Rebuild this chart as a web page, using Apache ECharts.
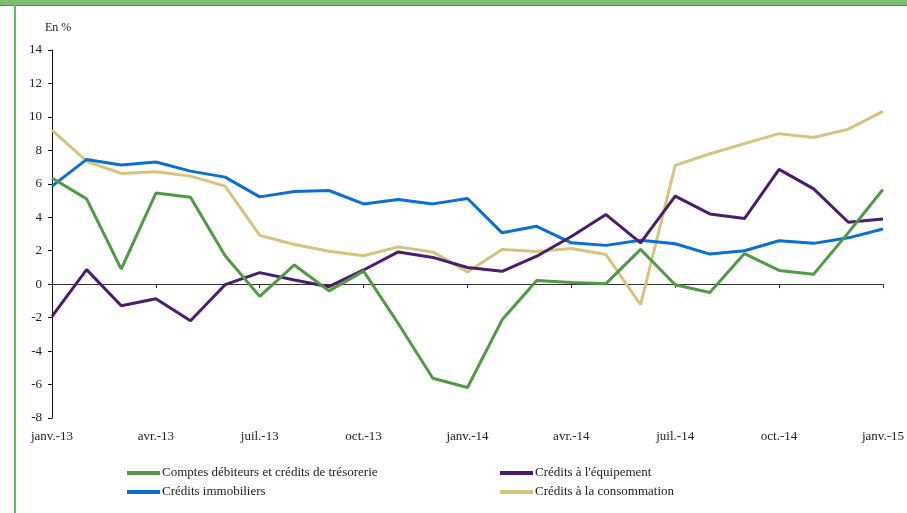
<!DOCTYPE html>
<html>
<head>
<meta charset="utf-8">
<script src="https://cdn.jsdelivr.net/npm/echarts@6/dist/echarts.min.js"></script>
<style>
  html, body { margin: 0; padding: 0; background: #fff; }
  #chart { width: 907px; height: 513px; }
</style>
</head>
<body>
<div id="chart"></div>
<script>
// mois, de janvier 2013 à janvier 2015
const months = [
  "janv.-13", "févr.-13", "mars-13", "avr.-13", "mai-13", "juin-13",
  "juil.-13", "août-13", "sept.-13", "oct.-13", "nov.-13", "déc.-13",
  "janv.-14", "févr.-14", "mars-14", "avr.-14", "mai-14", "juin-14",
  "juil.-14", "août-14", "sept.-14", "oct.-14", "nov.-14", "déc.-14",
  "janv.-15"
];

const comptesDebiteurs = [
  6.35, 5.1, 0.9, 5.45, 5.2, 1.7, -0.73, 1.15, -0.4, 0.78, -2.35, -5.62,
  -6.18, -2.13, 0.22, 0.1, 0.03, 2.08, -0.03, -0.5, 1.83, 0.82, 0.6, 3.08, 5.66
];
const creditsEquipement = [
  -1.93, 0.87, -1.29, -0.87, -2.19, -0.03, 0.69, 0.25, -0.15, 0.85, 1.93, 1.6,
  1.0, 0.77, 1.67, 2.85, 4.16, 2.47, 5.26, 4.2, 3.92, 6.86, 5.7, 3.7, 3.9
];
const creditsImmobiliers = [
  5.86, 7.46, 7.12, 7.3, 6.76, 6.4, 5.22, 5.54, 5.6, 4.8, 5.06, 4.8,
  5.12, 3.07, 3.46, 2.47, 2.32, 2.62, 2.42, 1.8, 2.0, 2.6, 2.44, 2.77, 3.3
];
const creditsConsommation = [
  9.21, 7.35, 6.62, 6.72, 6.46, 5.86, 2.92, 2.37, 1.97, 1.7, 2.23, 1.93,
  0.73, 2.07, 1.96, 2.13, 1.77, -1.23, 7.1, 7.8, 8.4, 9.0, 8.77, 9.27, 10.33
];

const serif = "'Liberation Serif', 'DejaVu Serif', serif";
const textColor = "#222";

const chart = echarts.init(document.getElementById("chart"));

function lineSerie(name, color, data) {
  return {
    name: name,
    type: "line",
    xAxisIndex: 0,
    data: data,
    symbol: "none",
    lineStyle: { color: color, width: 3 },
    itemStyle: { color: color },
  };
}

const option = {
  animation: false,
  backgroundColor: "#fff",
  title: {
    text: "En %",
    left: 40,
    top: 17,
    textStyle: { fontFamily: serif, fontSize: 12, fontWeight: "normal", color: textColor },
  },
  // cadre vert de la page
  graphic: [
    { type: "rect", left: 0, top: 0, shape: { width: 907, height: 5 }, style: { fill: "#7dbd6e" } },
    { type: "rect", left: 0, top: 5, shape: { width: 907, height: 1 }, style: { fill: "#4f9447" } },
    { type: "rect", left: 14, top: 5, shape: { width: 2, height: 508 }, style: { fill: "#6db55f" } },
  ],
  grid: { left: 52, right: 22, top: 50, bottom: 95 },
  legend: [
    {
      orient: "vertical",
      left: 122,
      top: 461,
      itemWidth: 33,
      itemHeight: 4,
      itemGap: 5,
      icon: "rect",
      data: ["Comptes débiteurs et crédits de trésorerie", "Crédits immobiliers"],
      textStyle: { fontFamily: serif, fontSize: 13, color: textColor, lineHeight: 14, padding: [0, 0, 0, -3] },
    },
    {
      orient: "vertical",
      left: 495,
      top: 461,
      itemWidth: 33,
      itemHeight: 4,
      itemGap: 5,
      icon: "rect",
      data: ["Crédits à l'équipement", "Crédits à la consommation"],
      textStyle: { fontFamily: serif, fontSize: 13, color: textColor, lineHeight: 14, padding: [0, 0, 0, -3] },
    },
  ],
  xAxis: [
    {
      type: "category",
      data: months,
      boundaryGap: false,
      position: "bottom",
      axisLine: { onZero: true, lineStyle: { color: "#333", width: 1 } },
      axisTick: { show: true, interval: 2, length: 4, lineStyle: { color: "#333" } },
      axisLabel: { show: false },
      splitLine: { show: false },
    },
    {
      type: "category",
      data: months,
      boundaryGap: false,
      position: "bottom",
      axisLine: { show: false, onZero: false },
      axisTick: { show: false },
      axisLabel: { interval: 2, margin: 12, fontFamily: serif, fontSize: 13, color: textColor },
      splitLine: { show: false },
    },
  ],
  yAxis: {
    type: "value",
    min: -8,
    max: 14,
    interval: 2,
    axisLine: { show: true, lineStyle: { color: "#111", width: 1 } },
    axisTick: { show: true, length: 4, lineStyle: { color: "#111" } },
    axisLabel: { margin: 10, fontFamily: serif, fontSize: 13, color: textColor },
    splitLine: { show: false },
  },
  series: [
    lineSerie("Crédits à la consommation", "#d6c47e", creditsConsommation),
    lineSerie("Crédits immobiliers", "#0a6fd4", creditsImmobiliers),
    lineSerie("Crédits à l'équipement", "#4b1c6c", creditsEquipement),
    lineSerie("Comptes débiteurs et crédits de trésorerie", "#519a44", comptesDebiteurs),
  ],
};

chart.setOption(option);
</script>
</body>
</html>
